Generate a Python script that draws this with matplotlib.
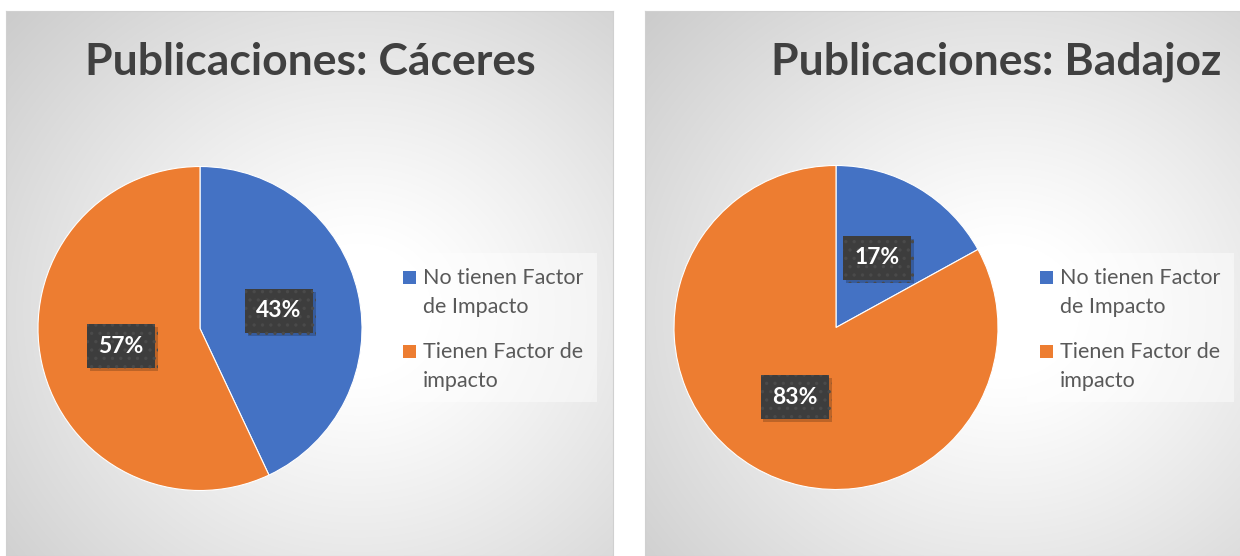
import numpy as np
import matplotlib
matplotlib.use('Agg')
import matplotlib.pyplot as plt
import matplotlib.patheffects as pe
from matplotlib.patches import Rectangle

plt.rcParams['font.family'] = ['Lato', 'DejaVu Sans']
plt.rcParams['hatch.linewidth'] = 1.2

W, H = 1240, 556

titles = ['Publicaciones: Cáceres', 'Publicaciones: Badajoz']
categories = ['No tienen Factor\nde Impacto', 'Tienen Factor de\nimpacto']
caceres = [43, 57]
badajoz = [17, 83]
colors = ['#4472C4', '#ED7D31']

# layout in pixels (left, right of panel), pie centre, title centre x, legend left
panels = [
    dict(x0=6, x1=613, cx=200, cy=328.5, tx=310, lx=390),
    dict(x0=645, x1=1265, cx=836, cy=327.5, tx=996, lx=1027),
]
R = 162


def fx(px):
    return px / W


def fy(py):
    return 1 - py / H


def gradient(w, h, cxr=0.58, cyr=0.55):
    yy, xx = np.mgrid[0:h, 0:w]
    r = np.sqrt(((xx - cxr * w) / (0.6 * w)) ** 2 + ((yy - cyr * h) / (0.62 * h)) ** 2)
    v = np.clip(1 - 0.18 * np.clip(r - 0.2, 0, None) ** 1.1, 0, 1)
    return np.dstack([v, v, v])


fig = plt.figure(figsize=(W / 100, H / 100), dpi=100)

for p, title, vals in zip(panels, titles, [caceres, badajoz]):
    # panel background
    pw = p['x1'] - p['x0']
    bg = fig.add_axes([fx(p['x0']), 0, fx(pw), (H - 11) / H])
    bg.imshow(gradient(pw, H - 11), aspect='auto', extent=(0, 1, 0, 1), interpolation='bilinear')
    bg.set_xticks([])
    bg.set_yticks([])
    for s in bg.spines.values():
        s.set_color('#d0d0d0')
        s.set_linewidth(0.8)

    fig.text(fx(p['tx']), fy(62), title, ha='center', va='center',
             fontsize=32, fontweight='bold', color='#404040')

    ax = fig.add_axes([fx(p['cx'] - R), fy(p['cy'] + R), fx(2 * R), 2 * R / H])
    wedges, texts, autotexts = ax.pie(
        vals, colors=colors, startangle=90, counterclock=False,
        autopct='%d%%', pctdistance=0.5,
        wedgeprops=dict(linewidth=0.8, edgecolor='white'),
        textprops=dict(color='white', fontsize=16.5, fontweight='bold'))
    ax.set_xlim(-1, 1)
    ax.set_ylim(-1, 1)
    ax.set_aspect('equal')
    for t in autotexts:
        t.set_bbox(dict(boxstyle='square,pad=0.5', facecolor='#3d3d3d',
                        edgecolor='#4a4a4a', linewidth=0, hatch='..'))
        t.get_bbox_patch().set_path_effects([
            pe.SimplePatchShadow(offset=(2, -2), shadow_rgbFace='black', alpha=0.2),
            pe.Normal()])

    # legend
    lx = p['lx']
    fig.patches.append(Rectangle((fx(lx), fy(402)), fx(207), 149 / H,
                                 transform=fig.transFigure, facecolor='white',
                                 alpha=0.45, edgecolor='none'))
    for i, (lab, col) in enumerate(zip(categories, colors)):
        ytop = 277 + i * 74
        fig.patches.append(Rectangle((fx(lx + 13), fy(ytop + 7)), fx(13), 13 / H,
                                     transform=fig.transFigure, facecolor=col,
                                     edgecolor='none'))
        fig.text(fx(lx + 33), fy(ytop - 9), lab, ha='left', va='top',
                 fontsize=15.5, color='#595959', linespacing=1.55)

fig.savefig('out.png', dpi=100)
